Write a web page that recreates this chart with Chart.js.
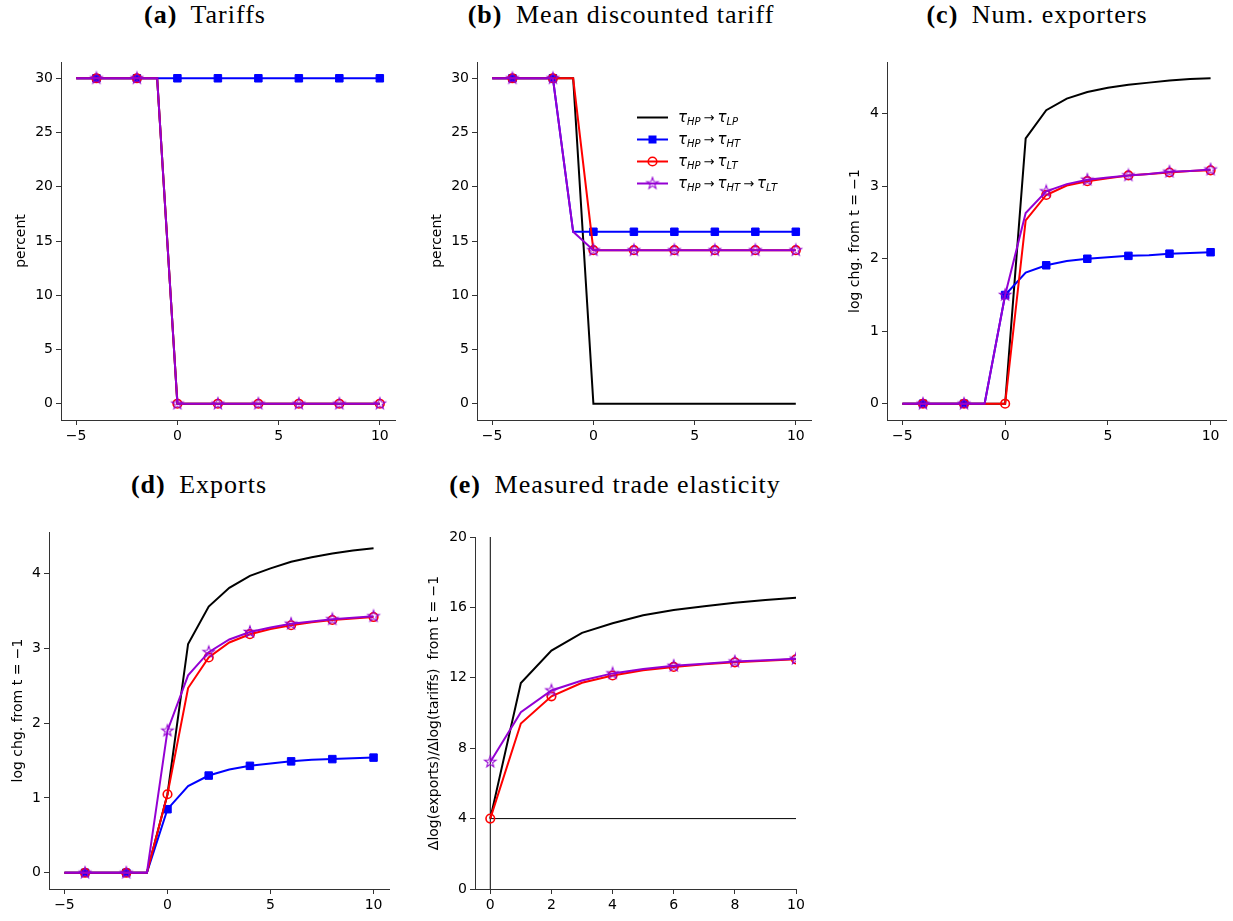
<!DOCTYPE html>
<html>
<head>
<meta charset="utf-8">
<script src="https://cdn.jsdelivr.net/npm/chart.js@4.4.1/dist/chart.umd.min.js"></script>
<style>
    body { margin: 0; background: #fff; width: 1233px; height: 921px; position: relative; overflow: hidden; }
    .ttl {
        position: absolute; transform: translateX(-50%); white-space: nowrap;
        font-family: "Liberation Serif", serif; font-size: 26px; line-height: 26px;
        letter-spacing: 1px; color: #000;
    }
    .ttl b { margin-right: 6px; }
    .panel { position: absolute; }
</style>
</head>
<body>

<div class="ttl" style="left:205px; top:2px;"><b>(a)</b> Tariffs</div>
<div class="ttl" style="left:621px; top:2px;"><b>(b)</b> Mean discounted tariff</div>
<div class="ttl" style="left:1037px; top:2px;"><b>(c)</b> Num. exporters</div>
<div class="ttl" style="left:199px; top:472px;"><b>(d)</b> Exports</div>
<div class="ttl" style="left:615px; top:472px;"><b>(e)</b> Measured trade elasticity</div>

<div class="panel" style="left:13px;  top:40px;  width:394px; height:416px;"><canvas id="chartA" width="394" height="416"></canvas></div>
<div class="panel" style="left:429px; top:40px;  width:394px; height:416px;"><canvas id="chartB" width="394" height="416"></canvas></div>
<div class="panel" style="left:847px; top:40px;  width:386px; height:416px;"><canvas id="chartC" width="386" height="416"></canvas></div>
<div class="panel" style="left:10px;  top:505px; width:391px; height:414px;"><canvas id="chartD" width="391" height="414"></canvas></div>
<div class="panel" style="left:426px; top:505px; width:384px; height:414px;"><canvas id="chartE" width="384" height="414"></canvas></div>

<script>
// ---- data ----
const periods      = [-5, -4, -3, -2, -1, 0, 1, 2, 3, 4, 5, 6, 7, 8, 9, 10];
const elastPeriods = [0, 1, 2, 3, 4, 5, 6, 7, 8, 9, 10];

// (a) tariffs, percent
const tariffLP   = [30, 30, 30, 30, 30, 0, 0, 0, 0, 0, 0, 0, 0, 0, 0, 0];
const tariffHT   = [30, 30, 30, 30, 30, 30, 30, 30, 30, 30, 30, 30, 30, 30, 30, 30];
const tariffLT   = [30, 30, 30, 30, 30, 0, 0, 0, 0, 0, 0, 0, 0, 0, 0, 0];
const tariffHTLT = [30, 30, 30, 30, 30, 0, 0, 0, 0, 0, 0, 0, 0, 0, 0, 0];

// (b) mean discounted tariff, percent
const discLP   = [30, 30, 30, 30, 30, 0, 0, 0, 0, 0, 0, 0, 0, 0, 0, 0];
const discHT   = [30, 30, 30, 30, 15.85, 15.85, 15.85, 15.85, 15.85, 15.85, 15.85, 15.85, 15.85, 15.85, 15.85, 15.85];
const discLT   = [30, 30, 30, 30, 30, 14.15, 14.15, 14.15, 14.15, 14.15, 14.15, 14.15, 14.15, 14.15, 14.15, 14.15];
const discHTLT = [30, 30, 30, 30, 15.85, 14.15, 14.15, 14.15, 14.15, 14.15, 14.15, 14.15, 14.15, 14.15, 14.15, 14.15];

// (c) number of exporters, log change from t = -1
const nexpLP   = [0, 0, 0, 0, 0, 0, 3.66, 4.05, 4.21, 4.30, 4.36, 4.40, 4.43, 4.46, 4.48, 4.49];
const nexpHT   = [0, 0, 0, 0, 0, 1.50, 1.81, 1.91, 1.97, 2.00, 2.02, 2.04, 2.05, 2.07, 2.08, 2.09];
const nexpLT   = [0, 0, 0, 0, 0, 0, 2.53, 2.88, 3.01, 3.07, 3.11, 3.15, 3.17, 3.19, 3.21, 3.22];
const nexpHTLT = [0, 0, 0, 0, 0, 1.50, 2.63, 2.93, 3.03, 3.09, 3.12, 3.15, 3.17, 3.20, 3.21, 3.23];

// (d) exports, log change from t = -1
const expLP   = [0, 0, 0, 0, 0, 1.05, 3.06, 3.56, 3.81, 3.97, 4.07, 4.16, 4.22, 4.27, 4.31, 4.34];
const expHT   = [0, 0, 0, 0, 0, 0.85, 1.16, 1.30, 1.38, 1.43, 1.46, 1.49, 1.51, 1.52, 1.53, 1.54];
const expLT   = [0, 0, 0, 0, 0, 1.05, 2.47, 2.88, 3.08, 3.19, 3.26, 3.31, 3.35, 3.38, 3.40, 3.42];
const expHTLT = [0, 0, 0, 0, 0, 1.90, 2.64, 2.95, 3.12, 3.22, 3.28, 3.33, 3.36, 3.39, 3.41, 3.43];

// (e) measured trade elasticity (no blue series: tariff never changes there)
const elastLP   = [4.0, 11.7, 13.55, 14.55, 15.1, 15.55, 15.85, 16.07, 16.27, 16.42, 16.55];
const elastLT   = [4.0, 9.4, 10.95, 11.72, 12.13, 12.43, 12.62, 12.77, 12.88, 12.97, 13.05];
const elastHTLT = [7.22, 10.05, 11.28, 11.85, 12.25, 12.5, 12.68, 12.8, 12.92, 13.0, 13.08];
const elastRefX = 0;
const elastRefY = 4;

// tick values
const eventTicks   = [-5, 0, 5, 10];
const percentTicks = [0, 5, 10, 15, 20, 25, 30];
const logTicks     = [0, 1, 2, 3, 4];
const elastXTicks  = [0, 2, 4, 6, 8, 10];
const elastYTicks  = [0, 4, 8, 12, 16, 20];

// ---- styling ----
Chart.defaults.font.family = '"DejaVu Sans", sans-serif';
Chart.defaults.font.size   = 14;
Chart.defaults.color       = '#000';

const AXIS_COLOR = '#333';

// one hollow 5-point star, used as the point image for the purple series
function makeStar(color, R) {
    const c = document.createElement('canvas');
    const s = 2 * Math.ceil(R + 1.5);
    c.width = s; c.height = s;
    const g = c.getContext('2d');
    g.translate(s / 2, s / 2);
    g.beginPath();
    for (let k = 0; k < 10; k++) {
        const r = k % 2 ? R * 0.4 : R;
        const a = -Math.PI / 2 + k * Math.PI / 5;
        g.lineTo(r * Math.cos(a), r * Math.sin(a));
    }
    g.closePath();
    g.strokeStyle = color;
    g.lineWidth = 1.1;
    g.stroke();
    return c;
}

const series = {
    LP:   { color: '#000000', marker: null,     order: 4, parts: [['τ', 'HP'], ['τ', 'LP']] },
    HT:   { color: '#0000ff', marker: 'rect',   order: 3, parts: [['τ', 'HP'], ['τ', 'HT']] },
    LT:   { color: '#ff0000', marker: 'circle', order: 2, parts: [['τ', 'HP'], ['τ', 'LT']] },
    HTLT: { color: '#9400d3', marker: 'star',   order: 1, parts: [['τ', 'HP'], ['τ', 'HT'], ['τ', 'LT']] },
};
const starImg = makeStar(series.HTLT.color, 6);
const markerRadius = { rect: 5.3, circle: 4.3, star: 6 };

// markEven: put markers on even data indices (else on odd ones) — mimics markevery=2
function makeDataset(key, xs, ys, markEven) {
    const st = series[key];
    return {
        label: key,
        data: xs.map((x, i) => ({ x, y: ys[i] })),
        borderColor: st.color,
        backgroundColor: st.color,
        borderWidth: 2,
        order: st.order,
        tension: 0,
        pointStyle: st.marker === 'star' ? starImg : (st.marker || 'circle'),
        pointRadius: ctx => (st.marker && (ctx.dataIndex % 2 === (markEven ? 0 : 1))) ? markerRadius[st.marker] : 0,
        pointHoverRadius: 0,
        pointBorderColor: st.color,
        pointBackgroundColor: st.marker === 'rect' ? st.color : 'rgba(0,0,0,0)',
        pointBorderWidth: st.marker === 'circle' ? 1.6 : 1,
    };
}

function fmtTick(v) {
    return v < 0 ? '\u2212' + Math.abs(v) : String(v);
}

function axis(opts) {
    return {
        type: 'linear',
        min: opts.min,
        max: opts.max,
        afterBuildTicks: s => { s.ticks = opts.ticks.map(v => ({ value: v })); },
        afterFit: s => { if (opts.width != null) s.width = opts.width; if (opts.height != null) s.height = opts.height; },
        ticks: { autoSkip: false, maxRotation: 0, padding: 3, callback: v => fmtTick(v), color: '#000' },
        grid: { display: true, drawOnChartArea: false, drawTicks: true, tickLength: 5, tickColor: AXIS_COLOR, tickWidth: 1 },
        border: { display: true, color: AXIS_COLOR, width: 1 },
        title: opts.title ? { display: true, text: opts.title, padding: { top: 0, bottom: 0 }, font: { size: 14, lineHeight: 1.2 }, color: '#000' } : { display: false },
    };
}

// draws a legend whose labels carry subscripts (chart.js legend can't do that)
const mathLegend = {
    id: 'mathLegend',
    afterDraw(chart, args, opts) {
        if (!opts || !opts.rows) return;
        const { ctx, chartArea } = chart;
        ctx.save();
        opts.rows.forEach((key, i) => {
            const st = series[key];
            const y  = chartArea.top + opts.dy + i * opts.gap;
            const x0 = chartArea.left + opts.dx;
            ctx.strokeStyle = st.color;
            ctx.lineWidth = 2;
            ctx.beginPath(); ctx.moveTo(x0, y); ctx.lineTo(x0 + 31, y); ctx.stroke();
            const mx = x0 + 15.5;
            if (st.marker === 'rect') {
                ctx.fillStyle = st.color; ctx.fillRect(mx - 4, y - 4, 8, 8);
            } else if (st.marker === 'circle') {
                ctx.lineWidth = 1.6; ctx.beginPath(); ctx.arc(mx, y, 4.3, 0, Math.PI * 2); ctx.stroke();
            } else if (st.marker === 'star') {
                ctx.drawImage(starImg, mx - starImg.width / 2, y - starImg.height / 2);
            }

            let x = chartArea.left + opts.tx;
            ctx.fillStyle = '#000';
            ctx.textBaseline = 'alphabetic';
            st.parts.forEach((p, j) => {
                if (j > 0) {
                    ctx.font = '13px "DejaVu Sans"';
                    x += 3;
                    ctx.fillText('→', x, y + 4);
                    x += ctx.measureText('→').width + 3;
                }
                ctx.font = 'italic 15px "DejaVu Sans"';
                ctx.fillText(p[0], x, y + 4);
                x += ctx.measureText(p[0]).width;
                ctx.font = 'italic 10px "DejaVu Sans"';
                ctx.fillText(p[1], x, y + 7);
                x += ctx.measureText(p[1]).width;
            });
        });
        ctx.restore();
    },
};

function makeChart(id, datasets, layout, xAxis, yAxis, extra) {
    const opts = {
        responsive: false,
        animation: false,
        devicePixelRatio: 1,
        layout: { padding: { top: layout.padTop, right: layout.padRight, left: 0, bottom: 0 } },
        scales: { x: xAxis, y: yAxis },
        plugins: { legend: { display: false }, tooltip: { enabled: false } },
        events: [],
    };
    if (extra) opts.plugins.mathLegend = extra;
    return new Chart(document.getElementById(id), {
        type: 'line',
        data: { datasets },
        options: opts,
        plugins: extra ? [mathLegend] : [],
    });
}

// ---- (a) tariffs ----
makeChart('chartA', [
    makeDataset('LP', periods, tariffLP, false),
    makeDataset('HT', periods, tariffHT, false),
    makeDataset('LT', periods, tariffLT, false),
    makeDataset('HTLT', periods, tariffHTLT, false),
], { padTop: 22, padRight: 12 },
    axis({ min: -5.75, max: 10.75, ticks: eventTicks, height: 36 }),
    axis({ min: -1.5, max: 31.5, ticks: percentTicks, width: 48, title: 'percent' }));

// ---- (b) mean discounted tariff ----
makeChart('chartB', [
    makeDataset('LP', periods, discLP, false),
    makeDataset('HT', periods, discHT, false),
    makeDataset('LT', periods, discLT, false),
    makeDataset('HTLT', periods, discHTLT, false),
], { padTop: 22, padRight: 12 },
    axis({ min: -5.75, max: 10.75, ticks: eventTicks, height: 36 }),
    axis({ min: -1.5, max: 31.5, ticks: percentTicks, width: 48, title: 'percent' }),
    { rows: ['LP', 'HT', 'LT', 'HTLT'], dx: 160, tx: 201, dy: 55.5, gap: 22 });

// ---- (c) number of exporters ----
makeChart('chartC', [
    makeDataset('LP', periods, nexpLP, false),
    makeDataset('HT', periods, nexpHT, false),
    makeDataset('LT', periods, nexpLT, false),
    makeDataset('HTLT', periods, nexpHTLT, false),
], { padTop: 22, padRight: 6 },
    axis({ min: -5.75, max: 10.75, ticks: eventTicks, height: 36 }),
    axis({ min: -0.2245, max: 4.7145, ticks: logTicks, width: 40, title: 'log chg. from t = \u22121' }));

// ---- (d) exports ----
makeChart('chartD', [
    makeDataset('LP', periods, expLP, false),
    makeDataset('HT', periods, expHT, false),
    makeDataset('LT', periods, expLT, false),
    makeDataset('HTLT', periods, expHTLT, false),
], { padTop: 27, padRight: 12 },
    axis({ min: -5.75, max: 10.75, ticks: eventTicks, height: 30 }),
    axis({ min: -0.217, max: 4.557, ticks: logTicks, width: 39, title: 'log chg. from t = \u22121' }));

// ---- (e) measured trade elasticity ----
const yTop = elastYTicks[elastYTicks.length - 1];
const xEnd = elastXTicks[elastXTicks.length - 1];
const refLine = (pts) => ({
    data: pts, borderColor: '#000', borderWidth: 1, pointRadius: 0, pointHoverRadius: 0, order: 10, tension: 0,
});
makeChart('chartE', [
    refLine([{ x: elastRefX, y: elastYTicks[0] }, { x: elastRefX, y: yTop }]),
    refLine([{ x: elastRefX, y: elastRefY }, { x: xEnd, y: elastRefY }]),
    makeDataset('LP', elastPeriods, elastLP, true),
    makeDataset('LT', elastPeriods, elastLT, true),
    makeDataset('HTLT', elastPeriods, elastHTLT, true),
], { padTop: 32, padRight: 14 },
    axis({ min: -0.5, max: 10, ticks: elastXTicks, height: 30 }),
    axis({ min: 0, max: 20, ticks: elastYTicks, width: 49, title: '\u0394log(exports)/\u0394log(tariffs)  from t = \u22121' }));
</script>
</body>
</html>
